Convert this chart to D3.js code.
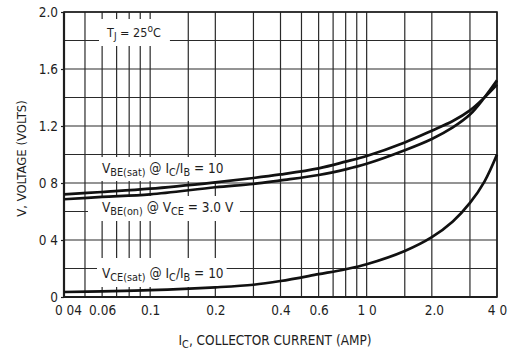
<!DOCTYPE html>
<html>
<head>
<meta charset="utf-8">
<script src="https://cdn.jsdelivr.net/npm/d3@7/dist/d3.min.js"></script>
<style>
  html, body { margin: 0; padding: 0; background: #fff; }
  svg { display: block; }
  text { font-family: "Liberation Sans Narrow", "DejaVu Sans Condensed", "Arial Narrow", sans-serif; fill: #1e1e1e; }
</style>
</head>
<body>
<script>
// ---- data ----
const collectorCurrent = [0.04, 0.06, 0.1, 0.2, 0.3, 0.4, 0.6, 0.8, 1.0, 1.5, 2.0, 2.5, 3.0, 3.5, 4.0];
const vbeSat  = [0.72, 0.737, 0.76, 0.805, 0.835, 0.86, 0.903, 0.95, 0.99, 1.085, 1.167, 1.235, 1.31, 1.40, 1.49];
const vbeOn   = [0.686, 0.702, 0.72, 0.77, 0.793, 0.818, 0.856, 0.896, 0.935, 1.03, 1.109, 1.19, 1.28, 1.40, 1.52];
const vceSat  = [0.035, 0.04, 0.048, 0.068, 0.086, 0.112, 0.16, 0.195, 0.23, 0.323, 0.42, 0.53, 0.66, 0.81, 1.0];

const xGridValues = [0.04, 0.05, 0.06, 0.07, 0.08, 0.09, 0.1, 0.15, 0.2, 0.3, 0.4, 0.5, 0.6, 0.7, 0.8, 0.9, 1.0, 1.5, 2.0, 3.0, 4.0];
const xTickValues = [0.04, 0.06, 0.1, 0.2, 0.4, 0.6, 1.0, 2.0, 4.0];
const xTickLabels = ["0 04", "0.06", "0.1", "0.2", "0.4", "0.6", "1 0", "2.0", "4 0"];
const yGridValues = [0, 0.2, 0.4, 0.6, 0.8, 1.0, 1.2, 1.4, 1.6, 1.8, 2.0];
const yTickValues = [0, 0.4, 0.8, 1.2, 1.6, 2.0];
const yTickLabels = ["0", "0 4", "0 8", "1.2", "1.6", "2.0"];

// ---- layout ----
const W = 508, H = 352;
const m = { left: 64, right: 11, top: 12, bottom: 55 };
const svg = d3.select("body").append("svg").attr("width", W).attr("height", H);

const x = d3.scaleLog().domain([0.04, 4]).range([m.left, W - m.right]);
const y = d3.scaleLinear().domain([0, 2]).range([H - m.bottom, m.top]);

const ink = "#1e1e1e";

// grid
const grid = svg.append("g").attr("stroke", "#2a2a2a").attr("stroke-width", 1.2);
grid.selectAll("line.v").data(xGridValues).join("line")
  .attr("x1", d => x(d)).attr("x2", d => x(d))
  .attr("y1", y(0)).attr("y2", y(2));
grid.selectAll("line.h").data(yGridValues).join("line")
  .attr("x1", x(0.04)).attr("x2", x(4))
  .attr("y1", d => y(d)).attr("y2", d => y(d));

// axes
const yLab = new Map(yTickValues.map((v, i) => [v, yTickLabels[i]]));
const yAxis = svg.append("g").attr("transform", `translate(${m.left},0)`)
  .call(d3.axisLeft(y).tickValues(yTickValues).tickSize(3).tickPadding(3).tickFormat(d => yLab.get(d)));
yAxis.select(".domain").remove();
yAxis.selectAll("line").attr("stroke", ink).attr("stroke-width", 1.2);
yAxis.selectAll("text").attr("font-size", 13.5).attr("fill", ink).style("font-family", null);

const xLab = new Map(xTickValues.map((v, i) => [v, xTickLabels[i]]));
const xAxis = svg.append("g").attr("transform", `translate(0,${y(0)})`)
  .call(d3.axisBottom(x).tickValues(xTickValues).tickSize(0).tickPadding(8).tickFormat(d => xLab.get(d)));
xAxis.select(".domain").remove();
xAxis.selectAll("text").attr("font-size", 13.5).attr("fill", ink)
  .attr("dx", d => d === 0.04 ? 4 : (d === 2.0 ? 2 : 0));

// frame
svg.append("rect").attr("x", x(0.04)).attr("y", y(2))
  .attr("width", x(4) - x(0.04)).attr("height", y(0) - y(2))
  .attr("fill", "none").attr("stroke", ink).attr("stroke-width", 1.6);
svg.append("line").attr("x1", x(0.04)).attr("x2", x(0.04)).attr("y1", y(0)).attr("y2", y(2))
  .attr("stroke", ink).attr("stroke-width", 2.2);
svg.append("line").attr("x1", x(0.04)).attr("x2", x(4)).attr("y1", y(0)).attr("y2", y(0))
  .attr("stroke", ink).attr("stroke-width", 2.2);

// rich label helper
function richText(g, xPos, yPos, parts, size, padL, padR, padT, padB) {
  const bg = g.append("rect").attr("fill", "#fff");
  const t = g.append("text").attr("x", xPos).attr("y", yPos).attr("font-size", size);
  let shift = 0;
  parts.forEach(([s, kind]) => {
    const target = kind === "sub" ? 3 : kind === "sup" ? -5 : 0;
    t.append("tspan").attr("dy", target - shift)
      .attr("font-size", kind === "n" ? size : size * 0.8).text(s);
    shift = target;
  });
  const b = t.node().getBBox();
  if (padL !== undefined) {
    bg.attr("x", b.x - padL).attr("y", b.y - padT)
      .attr("width", b.width + padL + padR).attr("height", b.height + padT + padB);
  } else bg.remove();
  return t;
}

const ann = svg.append("g");
richText(ann, 107, 37, [["T", "n"], ["J", "sub"], [" = 25", "n"], ["o", "sup"], ["C", "n"]], 12.5, 7, 9, 4, 4);
richText(ann, 102, 173, [["V", "n"], ["BE(sat)", "sub"], [" @ I", "n"], ["C", "sub"], ["/I", "n"], ["B", "sub"], [" = 10", "n"]], 13.5, 6, 4, 3, 2);
richText(ann, 102, 212, [["V", "n"], ["BE(on)", "sub"], [" @ V", "n"], ["CE", "sub"], [" = 3.0 V", "n"]], 13.5, 14, 6, 3, 3);
richText(ann, 102, 278, [["V", "n"], ["CE(sat)", "sub"], [" @ I", "n"], ["C", "sub"], ["/I", "n"], ["B", "sub"], [" = 10", "n"]], 13.5, 5, 3, 7, 3);

// curves
const line = d3.line().x(d => x(d[0])).y(d => y(d[1])).curve(d3.curveCatmullRom.alpha(0.5));
[vbeSat, vbeOn, vceSat].forEach(series => {
  svg.append("path")
    .datum(collectorCurrent.map((c, i) => [c, series[i]]))
    .attr("d", line).attr("fill", "none")
    .attr("stroke", "#111").attr("stroke-width", 2.7);
});

// axis titles
richText(svg, 275, 345, [["I", "n"], ["C", "sub"], [", COLLECTOR CURRENT (AMP)", "n"]], 13.5)
  .attr("text-anchor", "middle");
svg.append("text")
  .attr("transform", `translate(26,${(y(0) + y(2)) / 2 + 4}) rotate(-90)`)
  .attr("text-anchor", "middle").attr("font-size", 13)
  .text("V, VOLTAGE (VOLTS)");
</script>
</body>
</html>
